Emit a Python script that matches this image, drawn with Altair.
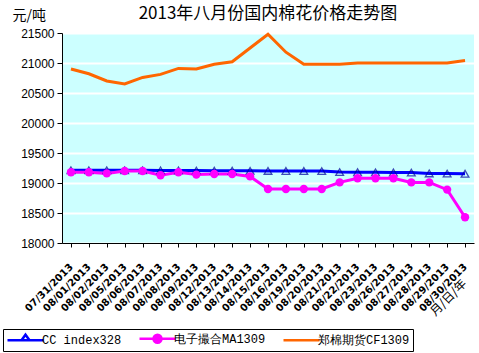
import altair as alt
import pandas as pd

dates = ["07/31/2013", "08/01/2013", "08/02/2013", "08/05/2013", "08/06/2013",
         "08/07/2013", "08/08/2013", "08/09/2013", "08/12/2013", "08/13/2013",
         "08/14/2013", "08/15/2013", "08/16/2013", "08/19/2013", "08/20/2013",
         "08/21/2013", "08/22/2013", "08/23/2013", "08/26/2013", "08/27/2013",
         "08/28/2013", "08/29/2013", "08/30/2013"]
cc_index = [19212, 19212, 19212, 19212, 19212, 19210, 19209, 19207, 19205, 19204,
            19203, 19202, 19201, 19200, 19198, 19182, 19180, 19178, 19176, 19174,
            19160, 19157, 19155]
ma1309 = [19180, 19180, 19160, 19200, 19200, 19130, 19180, 19140, 19150, 19150,
          19110, 18900, 18900, 18900, 18900, 19010, 19080, 19080, 19080, 19010,
          19010, 18890, 18430]
cf1309 = [20900, 20820, 20700, 20650, 20760, 20810, 20910, 20900, 20980, 21020,
          21250, 21480, 21180, 20980, 20980, 20980, 21000, 21000, 21000, 21000,
          21000, 21000, 21040]
series_names = ["CC index328", "电子撮合MA1309", "郑棉期货CF1309"]
series_colors = ["#0000FF", "#FF00FF", "#FF6600"]
y_ticks = [18000, 18500, 19000, 19500, 20000, 20500, 21000, 21500]

rows = []
for name, vals in zip(series_names, [cc_index, ma1309, cf1309]):
    for d, v in zip(dates, vals):
        rows.append({"date": d, "series": name, "value": v})
df = pd.DataFrame(rows)

x_enc = alt.X("date:N", sort=dates, scale=alt.Scale(paddingInner=0, paddingOuter=0),
              axis=alt.Axis(title="月/日/年", bandPosition=0, labelAngle=315,
                            labelAlign="right", labelBaseline="middle",
                            labelOffset=0, labelPadding=18, tickSize=4,
                            tickColor="black", domainColor="black",
                            labelFont="DejaVu Sans", labelFontSize=10,
                            labelFontWeight="bold", labelColor="black",
                            titleFont="Noto Sans CJK SC", titleFontSize=12,
                            titleFontWeight="normal", titleAngle=315,
                            titleAlign="right", titleBaseline="middle",
                            titleX=402, titleY=38, grid=False))
y_enc = alt.Y("value:Q", scale=alt.Scale(domain=[18000, 21500], nice=False, zero=False),
              axis=alt.Axis(title="元/吨", values=y_ticks, format="d", grid=True,
                            gridColor="white", gridWidth=2, tickSize=5,
                            tickColor="black", domainColor="black",
                            labelFont="Liberation Sans", labelFontSize=12,
                            labelColor="black", labelPadding=3,
                            titleFont="Noto Sans CJK SC", titleFontSize=14,
                            titleFontWeight="normal", titleAngle=0,
                            titleAlign="left", titleBaseline="alphabetic",
                            titleX=-50, titleY=-14))

color_scale = alt.Scale(domain=series_names, range=series_colors)

legend_def = alt.Legend(
    title=None, orient="none", legendX=-59, legendY=296, direction="horizontal",
    symbolSize=100, symbolStrokeWidth=2.5, symbolOffset=13, labelOffset=10,
    labelFont="Liberation Mono", labelFontSize=12, labelColor="black",
    columnPadding=12, padding=3, strokeColor="black", symbolOpacity=1,
    gridAlign="each", labelLimit=200)

lines = alt.Chart(df).mark_line(strokeWidth=3).encode(
    x=x_enc, y=y_enc,
    color=alt.Color("series:N", scale=color_scale, legend=legend_def),
)

tri = alt.Chart(df).transform_filter(alt.datum.series == "CC index328").mark_point(
    shape="triangle-up", filled=False, color="#000099", strokeWidth=1.3, size=60
).encode(x=x_enc, y=y_enc)

circ = alt.Chart(df).transform_filter(alt.datum.series == "电子撮合MA1309").mark_point(
    shape="circle", filled=True, color="#FF00FF", opacity=1, size=70
).encode(x=x_enc, y=y_enc)

legend_paths = [
    "M-3.6,0H3.6M-0.8,0L0,-1.1L0.8,0Z",
    "M-3.6,0H3.6M-0.8,0A0.8,0.8 0 1,1 0.8,0A0.8,0.8 0 1,1 -0.8,0Z",
    "M-3.6,0H3.6",
]
legend_fills = ["white", "#FF00FF", "#FF6600"]

legend_layer = alt.Chart(df).mark_point(opacity=0, filled=False).encode(
    x=x_enc, y=y_enc,
    stroke=alt.Stroke("series:N", scale=color_scale, legend=legend_def),
    fill=alt.Fill("series:N", scale=alt.Scale(domain=series_names, range=legend_fills),
                  legend=legend_def),
    shape=alt.Shape("series:N", scale=alt.Scale(domain=series_names, range=legend_paths),
                    legend=legend_def),
)

chart = alt.layer(lines, tri, circ, legend_layer).properties(
    width=412, height=210,
    title=alt.Title("2013年八月份国内棉花价格走势图", font="Noto Sans CJK SC",
                    fontSize=17, fontWeight="normal", color="black", offset=-15),
    autosize=alt.AutoSizeParams(type="none"),
    padding={"left": 62, "top": 33, "right": 5, "bottom": 110},
    background="white",
).configure_view(fill="#CCFFFF", stroke=None)

chart.save("out.html", embed_options={"renderer": "svg", "actions": False})
